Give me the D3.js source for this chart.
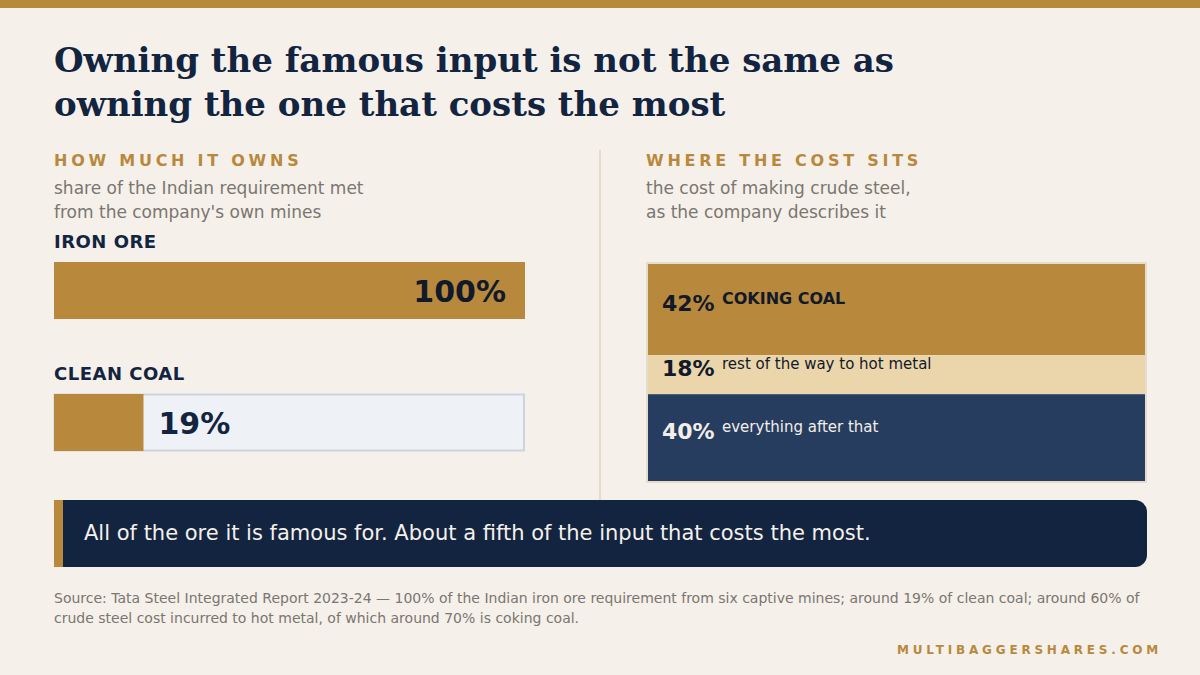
<!DOCTYPE html>
<html><head><meta charset="utf-8">
<script src="https://cdn.jsdelivr.net/npm/d3@7"></script>
<style>html,body{margin:0;padding:0;background:#F5F0EA;}svg{display:block;}</style>
</head><body>
<svg id="c" width="1200" height="675"></svg>
<script>
// ---- data ----
const ownCategories = ["IRON ORE", "CLEAN COAL"];
const ownValues = [100, 19];
const costCategories = ["COKING COAL", "rest of the way to hot metal", "everything after that"];
const costValues = [42, 18, 40];
const titleLines = ["Owning the famous input is not the same as", "owning the one that costs the most"];
const leftHead = "HOW MUCH IT OWNS";
const leftSub = ["share of the Indian requirement met", "from the company's own mines"];
const rightHead = "WHERE THE COST SITS";
const rightSub = ["the cost of making crude steel,", "as the company describes it"];
const callout = "All of the ore it is famous for. About a fifth of the input that costs the most.";
const sourceLines = ["Source: Tata Steel Integrated Report 2023-24 \u2014 100% of the Indian iron ore requirement from six captive mines; around 19% of clean coal; around 60% of", "crude steel cost incurred to hot metal, of which around 70% is coking coal."];
const brand = "MULTIBAGGERSHARES.COM";

const GOLD = "#B8893C", NAVY = "#12243F", BEIGE = "#EBD6AB", MIDNAVY = "#263D5F";
const SANS = "DejaVu Sans, sans-serif";
const svg = d3.select("#c");

svg.append("rect").attr("width", 1200).attr("height", 675).attr("fill", "#F5F0EA");
svg.append("rect").attr("width", 1200).attr("height", 8).attr("fill", GOLD);

// title
svg.selectAll("text.title").data(titleLines).join("text")
  .attr("x", 54).attr("y", (d, i) => 72 + i * 44)
  .attr("font-family", "DejaVu Serif, serif").attr("font-weight", "bold")
  .attr("font-size", 34).attr("fill", NAVY).text(d => d);

function header(x, head, sub) {
  svg.append("text").attr("x", x).attr("y", 166).attr("font-family", SANS)
    .attr("font-weight", "bold").attr("font-size", 16).attr("letter-spacing", 3.75)
    .attr("fill", GOLD).text(head);
  svg.append("g").selectAll("text").data(sub).join("text")
    .attr("x", x).attr("y", (d, i) => 194 + i * 24).attr("font-family", SANS)
    .attr("font-size", 17).attr("fill", "#7A7670").text(d => d);
}
header(54, leftHead, leftSub);
header(646, rightHead, rightSub);

// divider
svg.append("rect").attr("x", 599).attr("y", 150).attr("width", 2).attr("height", 350).attr("fill", "#E3DCCF");

// left bars
const xs = d3.scaleLinear().domain([0, 100]).range([54, 525]);
const rowY = d3.scaleOrdinal().domain(ownCategories).range([262, 394]);
const barH = 57;
ownCategories.forEach((c, i) => {
  const y = rowY(c);
  const v = ownValues[i];
  svg.append("text").attr("x", 54).attr("y", y - 14).attr("font-family", SANS)
    .attr("font-weight", "bold").attr("font-size", 18).attr("letter-spacing", 0.5)
    .attr("fill", NAVY).text(c);
  if (v < 100) {
    svg.append("rect").attr("x", xs(0) + 0.5).attr("y", y + 0.5)
      .attr("width", xs(100) - xs(0) - 1.5).attr("height", barH - 1)
      .attr("fill", "#EEF1F5").attr("stroke", "#CDD4DE").attr("stroke-width", 2);
  }
  svg.append("rect").attr("x", xs(0)).attr("y", y).attr("width", xs(v) - xs(0))
    .attr("height", barH).attr("fill", GOLD);
  const inside = v >= 50;
  svg.append("text")
    .attr("x", inside ? xs(v) - 19 : xs(v) + 15)
    .attr("y", y + 40)
    .attr("text-anchor", inside ? "end" : "start")
    .attr("font-family", SANS).attr("font-weight", "bold").attr("font-size", 30)
    .attr("fill", inside ? "#111A2B" : NAVY).text(v + "%");
});

// right stacked column
const boxX = 648, boxW = 497;
const ys = d3.scaleLinear().domain([0, 100]).range([264, 481]);
svg.append("rect").attr("x", boxX - 1).attr("y", ys(0) - 1).attr("width", boxW + 2)
  .attr("height", ys(100) - ys(0) + 2).attr("fill", "none")
  .attr("stroke", "#E6DCCB").attr("stroke-width", 2);
const stack = [];
let acc = 0;
costValues.forEach((v, i) => { stack.push({ c: costCategories[i], v, y0: acc, y1: acc + v }); acc += v; });
const fills = [GOLD, BEIGE, MIDNAVY];
const txt = ["#111A2B", "#111A2B", "#F2EEE8"];
const seg = svg.append("g").selectAll("g").data(stack).join("g");
seg.append("rect").attr("x", boxX).attr("y", d => ys(d.y0)).attr("width", boxW)
  .attr("height", d => ys(d.y1) - ys(d.y0)).attr("fill", (d, i) => fills[i]);
seg.append("text").attr("x", 662)
  .attr("y", d => (ys(d.y0) + ys(d.y1)) / 2 + 1.5)
  .attr("font-family", SANS).attr("font-weight", "bold").attr("font-size", 22)
  .attr("fill", (d, i) => txt[i]).text(d => d.v + "%");
seg.append("text").attr("x", 722)
  .attr("y", d => (ys(d.y0) + ys(d.y1)) / 2 - 5.5)
  .attr("font-family", SANS).attr("font-weight", (d, i) => i === 0 ? "bold" : "normal")
  .attr("font-size", (d, i) => i === 0 ? 16 : 15)
  .attr("fill", (d, i) => txt[i]).text(d => d.c);

// callout
const cx = 54, cy = 500, cw = 1093, ch = 67, r = 12;
svg.append("path").attr("d",
  `M${cx},${cy} H${cx + cw - r} A${r},${r} 0 0 1 ${cx + cw},${cy + r} V${cy + ch - r} A${r},${r} 0 0 1 ${cx + cw - r},${cy + ch} H${cx} Z`)
  .attr("fill", NAVY);
svg.append("rect").attr("x", cx).attr("y", cy).attr("width", 9).attr("height", ch).attr("fill", GOLD);
svg.append("text").attr("x", 84).attr("y", 540).attr("font-family", SANS)
  .attr("font-size", 21).attr("fill", "#F5F0EA").text(callout);

// source
svg.append("g").selectAll("text").data(sourceLines).join("text")
  .attr("x", 54).attr("y", (d, i) => 603 + i * 20).attr("font-family", SANS)
  .attr("font-size", 14).attr("fill", "#7A7670").text(d => d);

svg.append("text").attr("x", 1162).attr("y", 654).attr("text-anchor", "end")
  .attr("font-family", SANS).attr("font-weight", "bold").attr("font-size", 12)
  .attr("letter-spacing", 3.8).attr("fill", GOLD).text(brand);
</script>
</body></html>
